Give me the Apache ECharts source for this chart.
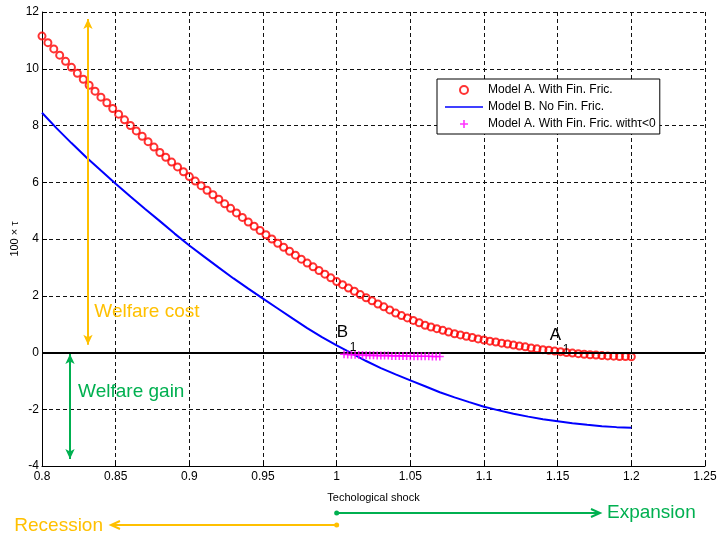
<!DOCTYPE html>
<html>
<head>
<meta charset="utf-8">
<script src="https://cdn.jsdelivr.net/npm/echarts@6/dist/echarts.min.js"></script>
<style>
  html, body { margin: 0; padding: 0; background: #fff; }
  #main { width: 720px; height: 535px; }
</style>
</head>
<body>
<div id="main"></div>
<script>
//坐标轴刻度
var xTicks = [0.8, 0.85, 0.9, 0.95, 1, 1.05, 1.1, 1.15, 1.2, 1.25];
var yTicks = [-4, -2, 0, 2, 4, 6, 8, 10, 12];

//Model A (红色圆圈)
var redX = [
  0.800,0.804,0.808,0.812,0.816,0.820,0.824,0.828,0.832,0.836,
  0.840,0.844,0.848,0.852,0.856,0.860,0.864,0.868,0.872,0.876,
  0.880,0.884,0.888,0.892,0.896,0.900,0.904,0.908,0.912,0.916,
  0.920,0.924,0.928,0.932,0.936,0.940,0.944,0.948,0.952,0.956,
  0.960,0.964,0.968,0.972,0.976,0.980,0.984,0.988,0.992,0.996,
  1.000,1.004,1.008,1.012,1.016,1.020,1.024,1.028,1.032,1.036,
  1.040,1.044,1.048,1.052,1.056,1.060,1.064,1.068,1.072,1.076,
  1.080,1.084,1.088,1.092,1.096,1.100,1.104,1.108,1.112,1.116,
  1.120,1.124,1.128,1.132,1.136,1.140,1.144,1.148,1.152,1.156,
  1.160,1.164,1.168,1.172,1.176,1.180,1.184,1.188,1.192,1.196,
  1.200
];
var redY = [
  11.15,10.92,10.70,10.48,10.26,10.05,9.84,9.63,9.42,9.21,
  9.00,8.80,8.60,8.40,8.20,8.00,7.81,7.62,7.43,7.24,
  7.05,6.88,6.71,6.54,6.37,6.20,6.04,5.88,5.72,5.56,
  5.40,5.24,5.08,4.92,4.76,4.60,4.45,4.30,4.15,4.00,
  3.85,3.71,3.57,3.43,3.29,3.15,3.02,2.89,2.76,2.63,
  2.50,2.39,2.27,2.16,2.04,1.93,1.82,1.71,1.61,1.50,
  1.39,1.30,1.22,1.13,1.05,0.96,0.90,0.84,0.78,0.72,
  0.66,0.62,0.57,0.53,0.48,0.44,0.40,0.37,0.33,0.30,
  0.26,0.23,0.20,0.16,0.13,0.10,0.08,0.05,0.03,0.00,
  -0.02,-0.04,-0.06,-0.08,-0.09,-0.11,-0.12,-0.13,-0.14,-0.145,
  -0.15
];

//Model B (蓝线)
var blueX = [
  0.80,0.81,0.82,0.83,0.84,0.85,0.86,0.87,0.88,0.89,
  0.90,0.91,0.92,0.93,0.94,0.95,0.96,0.97,0.98,0.99,
  1.00,1.01,1.02,1.03,1.04,1.05,1.06,1.07,1.08,1.09,
  1.10,1.11,1.12,1.13,1.14,1.15,1.16,1.17,1.18,1.19,
  1.20
];
var blueY = [
  8.45,7.90,7.38,6.88,6.41,5.95,5.50,5.06,4.63,4.19,
  3.77,3.38,2.99,2.61,2.25,1.90,1.55,1.20,0.86,0.54,
  0.25,-0.02,-0.30,-0.55,-0.77,-0.98,-1.19,-1.40,-1.58,-1.75,
  -1.91,-2.04,-2.16,-2.26,-2.35,-2.42,-2.49,-2.55,-2.60,-2.63,
  -2.65
];

//Model A, tau<0 (品红)
var magX = [
  1.005,1.0075,1.010,1.0125,1.015,1.0175,1.020,1.0225,1.025,1.0275,
  1.030,1.0325,1.035,1.0375,1.040,1.0425,1.045,1.0475,1.050,1.0525,
  1.055,1.0575,1.060,1.0625,1.065,1.0675,1.070
];
var magY = [
  -0.06,-0.07,-0.08,-0.08,-0.09,-0.09,-0.10,-0.10,-0.10,-0.11,
  -0.11,-0.11,-0.11,-0.12,-0.12,-0.12,-0.12,-0.12,-0.13,-0.13,
  -0.13,-0.13,-0.13,-0.13,-0.14,-0.14,-0.14
];

var names = ['Model A. With Fin. Fric.', 'Model B. No Fin. Fric.', 'Model A. With Fin. Fric. with\u03c4<0'];

var YELLOW = '#FFC000';
var GREEN = '#00B050';
var FONT = '"Liberation Sans", Arial, Helvetica, sans-serif';
var PLUS = 'path://M4,0H6V4H10V6H6V10H4V6H0V4H4Z';

function pairs(xs, ys){
	var d = [];
	for (var i = 0; i < xs.length; i++) d.push([xs[i], ys[i]]);
	return d;
}

function axisStyle(){
	return {
		axisLine: {onZero: false, lineStyle: {color: '#000', width: 1}},
		axisTick: {inside: true, length: 5, lineStyle: {color: '#000'}},
		axisLabel: {color: '#000', fontSize: 12, fontFamily: FONT},
		splitLine: {show: true, lineStyle: {color: '#111', width: 1, type: [4, 3]}}
	};
}

var myChart = echarts.init(document.getElementById('main'));

var xAx = axisStyle();
xAx.type = 'value';
xAx.min = xTicks[0];
xAx.max = xTicks[xTicks.length - 1];
xAx.interval = 0.05;
xAx.name = 'Techological shock';
xAx.nameLocation = 'middle';
xAx.nameGap = 26;
xAx.nameTextStyle = {color: '#000', fontSize: 11, fontFamily: FONT};
xAx.axisLabel.margin = 5;

var yAx = axisStyle();
yAx.type = 'value';
yAx.min = yTicks[0];
yAx.max = yTicks[yTicks.length - 1];
yAx.interval = 2;
yAx.name = '100 \u00d7 \u03c4';
yAx.nameLocation = 'middle';
yAx.nameGap = 22;
yAx.nameMoveOverlap = false;
yAx.nameRotate = 90;
yAx.nameTextStyle = {color: '#000', fontSize: 11, fontFamily: FONT};
yAx.axisLabel.margin = 3;

option = {
	animation: false,
	backgroundColor: '#fff',
	grid: {left: 42, right: 15, top: 12, bottom: 69, outerBoundsMode: 'none', containLabel: false},
	xAxis: xAx,
	yAxis: yAx,
	legend: {
		orient: 'vertical',
		left: 437,
		top: 79,
		padding: [5, 4, 4, 8],
		itemGap: 5,
		itemWidth: 38,
		itemHeight: 8,
		itemTextGap: 6,
		borderColor: '#000',
		borderWidth: 1,
		borderRadius: 0,
		backgroundColor: '#fff',
		textStyle: {color: '#000', fontSize: 12, fontFamily: FONT},
		data: [
			{name: names[0], icon: 'circle', itemStyle: {color: 'transparent', borderColor: '#ff0000', borderWidth: 2}},
			{name: names[1], icon: 'path://M0,4.2H38V5.8H0Z', itemStyle: {color: '#0000ff'}},
			{name: names[2], icon: PLUS}
		]
	},
	series: [
		{
			//零线 + 箭头注释
			type: 'line',
			name: 'annot',
			data: [],
			z: 1,
			markLine: {
				silent: true,
				animation: false,
				label: {show: false},
				data: [
					[{coord: [0.8, 0], symbol: 'none', lineStyle: {color: '#000', width: 2, type: 'solid'}},
					 {coord: [1.25, 0], symbol: 'none'}],
					[{coord: [0.8312, 11.75], symbol: 'arrow', symbolSize: [7, 10], lineStyle: {color: YELLOW, width: 2, type: 'solid'}},
					 {coord: [0.8312, 0.27], symbol: 'arrow', symbolSize: [7, 10]}],
					[{coord: [0.819, -0.05], symbol: 'arrow', symbolSize: [7, 10], lineStyle: {color: GREEN, width: 2, type: 'solid'}},
					 {coord: [0.819, -3.75], symbol: 'arrow', symbolSize: [7, 10]}]
				]
			}
		},
		{
			name: names[1],
			type: 'line',
			data: pairs(blueX, blueY),
			showSymbol: false,
			lineStyle: {color: '#0000ff', width: 2},
			itemStyle: {color: '#0000ff'},
			z: 3
		},
		{
			name: names[0],
			type: 'scatter',
			data: pairs(redX, redY),
			symbol: 'circle',
			symbolSize: 7,
			itemStyle: {color: 'transparent', borderColor: '#ff0000', borderWidth: 2},
			z: 4
		},
		{
			name: names[2],
			type: 'scatter',
			data: pairs(magX, magY),
			symbol: PLUS,
			symbolSize: 8,
			itemStyle: {color: '#ff00ff'},
			z: 5
		}
	]
};
myChart.setOption(option);

//像素位置的文字和箭头
function px(x, y){ return myChart.convertToPixel({gridIndex: 0}, [x, y]); }

var pB = px(1.0, 0.7), pA = px(1.1447, 0.62);
var p1 = px(1.0, 0);
var yG = 513, yY = 525;

function txt(x, y, s, size, color, align){
	return {type: 'text', x: x, y: y, z: 50,
		style: {text: s, fill: color, fontSize: size, fontFamily: FONT, textAlign: align || 'left', textVerticalAlign: 'middle'}};
}

myChart.setOption({
	graphic: [
		txt(px(0.8355, 0)[0], px(0, 1.45)[1], 'Welfare cost', 19, YELLOW),
		txt(px(0.8245, 0)[0], px(0, -1.4)[1], 'Welfare gain', 19, GREEN),
		txt(pB[0], pB[1], 'B', 17, '#000'),
		txt(pB[0] + 13, pB[1] + 15, '1', 12, '#000'),
		txt(pA[0], pA[1], 'A', 17, '#000'),
		txt(pA[0] + 13, pA[1] + 15, '1', 12, '#000'),
		//Expansion
		{type: 'line', z: 50, shape: {x1: p1[0], y1: yG, x2: 598, y2: yG}, style: {stroke: GREEN, lineWidth: 2}},
		{type: 'circle', z: 50, shape: {cx: p1[0], cy: yG, r: 2.5}, style: {fill: GREEN}},
		{type: 'polyline', z: 50, shape: {points: [[591, yG - 4], [600, yG], [591, yG + 4]]}, style: {stroke: GREEN, lineWidth: 2, fill: null}},
		txt(607, yG, 'Expansion', 19, GREEN),
		//Recession
		{type: 'line', z: 50, shape: {x1: p1[0], y1: yY, x2: 113, y2: yY}, style: {stroke: YELLOW, lineWidth: 2}},
		{type: 'circle', z: 50, shape: {cx: p1[0], cy: yY, r: 2.5}, style: {fill: YELLOW}},
		{type: 'polyline', z: 50, shape: {points: [[120, yY - 4], [111, yY], [120, yY + 4]]}, style: {stroke: YELLOW, lineWidth: 2, fill: null}},
		txt(103, yY + 1, 'Recession', 19, YELLOW, 'right')
	]
});
</script>
</body>
</html>
